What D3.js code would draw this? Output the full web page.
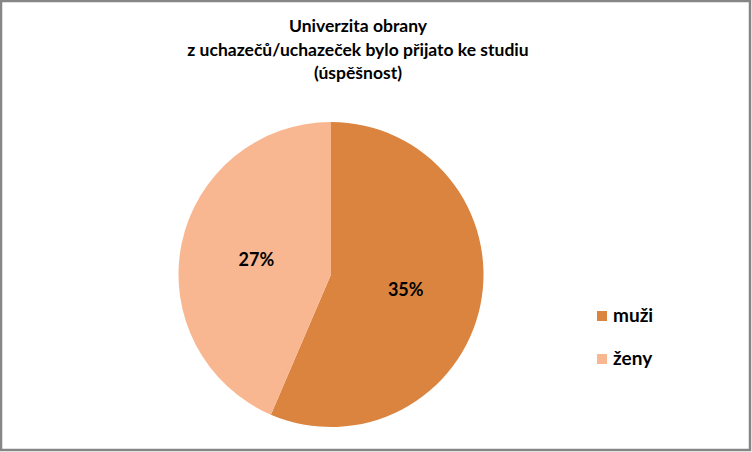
<!DOCTYPE html>
<html>
<head>
<meta charset="utf-8">
<script src="https://cdn.jsdelivr.net/npm/d3@7"></script>
<style>
  body { margin: 0; background: #fff; }
  svg { display: block; font-family: Lato, "Open Sans", sans-serif; }
</style>
</head>
<body>
<svg id="chart" width="752" height="452"></svg>
<script>
const categories = ["muži", "ženy"];
const values = [35, 27];
const colors = ["#DA843F", "#F9B791"];
const titleLines = ["Univerzita obrany", "z uchazečů/uchazeček bylo přijato ke studiu", "(úspěšnost)"];

const svg = d3.select("#chart");
const width = 752, height = 452;

// frame
svg.append("rect")
  .attr("x", 1).attr("y", 1)
  .attr("width", width - 3).attr("height", height - 3)
  .attr("fill", "#fff")
  .attr("stroke", "#868686")
  .attr("stroke-width", 2.5);

// title
svg.append("text")
  .attr("text-anchor", "middle")
  .attr("font-weight", "bold")
  .attr("font-size", 17.5)
  .attr("fill", "#000")
  .selectAll("tspan")
  .data(titleLines)
  .join("tspan")
  .attr("x", 358)
  .attr("y", (d, i) => 32 + i * 23.5)
  .text(d => d);

// pie
const cx = 331, cy = 274.5, radius = 152.5;
const pie = d3.pie().sort(null).value(d => d);
const arc = d3.arc().innerRadius(0).outerRadius(radius);
const labelArc = d3.arc().innerRadius(radius * 0.5).outerRadius(radius * 0.5);
const color = d3.scaleOrdinal().domain(categories).range(colors);

const g = svg.append("g").attr("transform", "translate(" + cx + "," + cy + ")");
const arcs = pie(values);

g.selectAll("path")
  .data(arcs)
  .join("path")
  .attr("d", arc)
  .attr("fill", (d, i) => color(categories[i]));

g.selectAll("text")
  .data(arcs)
  .join("text")
  .attr("transform", d => "translate(" + labelArc.centroid(d) + ")")
  .attr("text-anchor", "middle")
  .attr("dy", "0.36em")
  .attr("font-weight", "bold")
  .attr("font-size", 18)
  .text(d => d.data + "%");

// legend
const legend = svg.append("g").attr("transform", "translate(597,311)");
const item = legend.selectAll("g")
  .data(categories)
  .join("g")
  .attr("transform", (d, i) => "translate(0," + i * 43 + ")");

item.append("rect")
  .attr("width", 10).attr("height", 10)
  .attr("fill", d => color(d));

item.append("text")
  .attr("x", 16).attr("y", 10.5)
  .attr("font-weight", "bold")
  .attr("font-size", 19)
  .text(d => d);
</script>
</body>
</html>
